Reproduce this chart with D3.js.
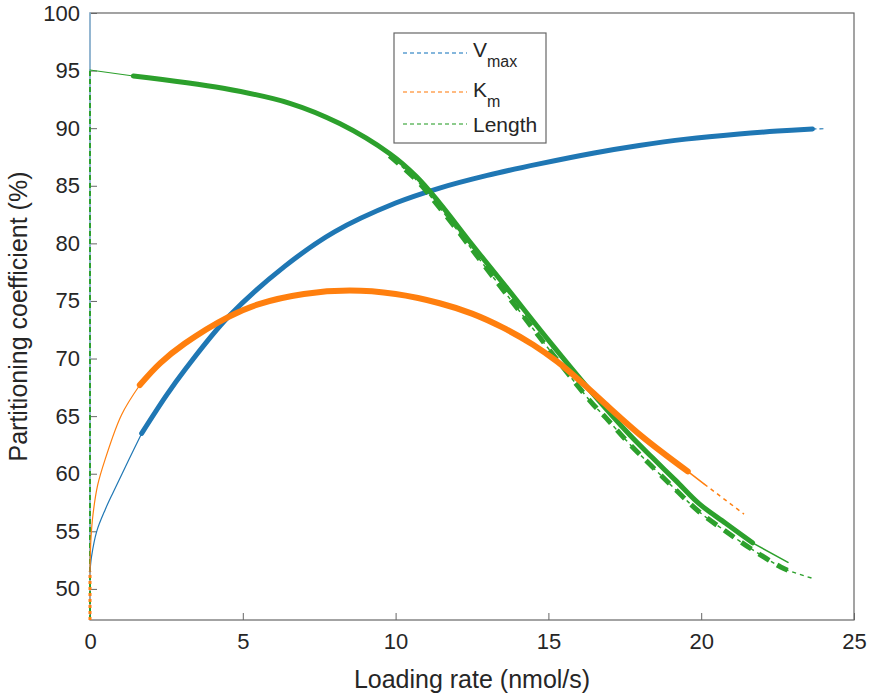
<!DOCTYPE html>
<html>
<head>
<meta charset="utf-8">
<script src="https://cdn.jsdelivr.net/npm/d3@7"></script>
<style>
  body { margin: 0; background: #fff; }
  text { font-family: Arial, "Liberation Sans", sans-serif; fill: #262626; }
</style>
</head>
<body>
<div id="chart"></div>
<script>
// values
let xTicks = [0, 5, 10, 15, 20, 25];
let yTicks = [50, 55, 60, 65, 70, 75, 80, 85, 90, 95, 100];

// Vmax
let vmaxX = [0, 0.05, 0.22, 0.5, 0.76, 1.25, 1.69, 2.5, 3.1, 4.52, 6.37, 8, 10, 11.44, 13, 14.7, 16.5, 17.97, 19.5, 21.24, 22.5, 23.64, 24.02];
let vmaxY = [51.5, 52.8, 55.0, 56.9, 58.4, 61.1, 63.5, 66.8, 69.0, 73.6, 78.0, 81.0, 83.5, 84.8, 85.9, 86.9, 87.85, 88.5, 89.05, 89.5, 89.75, 89.93, 89.95];
// Km
let kmX = [0, 0.03, 0.1, 0.25, 0.49, 1.03, 1.63, 2.3, 3.1, 4.52, 5.5, 7, 8.5, 10, 11.44, 12.5, 13.5, 14.5, 15.3, 16.1, 16.8, 18.08, 19.56, 20.1, 21.4];
let kmY = [51.5, 54.3, 56.5, 59.0, 61.2, 65.1, 67.7, 69.6, 71.3, 73.6, 74.7, 75.6, 75.9, 75.6, 74.8, 73.9, 72.7, 71.2, 69.7, 67.9, 66.2, 63.2, 60.2, 59.1, 56.5];
// Length (main and lower dashed run)
let lenX = [0, 1.42, 4.36, 6.54, 8.17, 9.8, 10.68, 11.44, 12.5, 13.62, 15, 16.34, 17.65, 18.4, 19.17, 19.93, 20.8, 21.68, 22.84];
let lenY = [95.05, 94.53, 93.46, 92.16, 90.4, 87.8, 85.8, 83.5, 79.9, 76.2, 71.6, 67.3, 63.4, 61.4, 59.4, 57.4, 55.7, 54.0, 52.3];
let lenLoX = [9.8, 10.68, 11.44, 13.62, 16.34, 16.9, 17.65, 18.4, 19.17, 19.93, 20.8, 21.68, 22.6, 22.85, 23.66];
let lenLoY = [87.6, 85.5, 83.1, 75.6, 66.4, 64.8, 62.6, 60.6, 58.6, 56.7, 55.0, 53.4, 51.9, 51.6, 50.9];

let colors = { vmax: "#1f77b4", km: "#ff7f0e", len: "#2ca02c" };

let margin = { top: 13, right: 18, bottom: 76, left: 90 },
  width = 872 - margin.left - margin.right,
  height = 696 - margin.top - margin.bottom;

let svg = d3.select("#chart").append("svg")
  .attr("width", 872)
  .attr("height", 696)
  .append("g")
  .attr("transform", "translate(" + margin.left + "," + margin.top + ")");

let x = d3.scaleLinear().domain([0, 25]).range([0, width]);
let y = d3.scaleLinear().domain([47.3, 100]).range([height, 0]);

// axes box
svg.append("rect")
  .attr("width", width).attr("height", height)
  .attr("fill", "none").attr("stroke", "#666").attr("stroke-width", 1.2);

let xAxis = svg.append("g")
  .attr("transform", "translate(0," + height + ")")
  .call(d3.axisBottom(x).tickValues(xTicks).tickSize(-7).tickPadding(13));
let yAxis = svg.append("g")
  .call(d3.axisLeft(y).tickValues(yTicks).tickSize(-7).tickPadding(10));
[xAxis, yAxis].forEach(a => {
  a.select(".domain").remove();
  a.selectAll("line").attr("stroke", "#666");
  a.selectAll("text").style("font-size", "22px").attr("fill", "#262626");
});

svg.append("text")
  .attr("x", width / 2).attr("y", height + 68)
  .style("text-anchor", "middle").style("font-size", "25px")
  .text("Loading rate (nmol/s)");
svg.append("text")
  .attr("transform", "rotate(-90)")
  .attr("x", -height / 2).attr("y", -63)
  .style("text-anchor", "middle").style("font-size", "25px")
  .text("Partitioning coefficient (%)");

function pts(xs, ys, from, to) {
  let out = [];
  for (let i = from; i <= to; i++) out.push([xs[i], ys[i]]);
  return out;
}

let line = d3.line().x(d => x(d[0])).y(d => y(d[1])).curve(d3.curveCatmullRom.alpha(0.5));

function draw(data, color, w, dash) {
  svg.append("path")
    .datum(data)
    .attr("d", line)
    .attr("fill", "none")
    .attr("stroke", color)
    .attr("stroke-width", w)
    .attr("stroke-linecap", dash ? "butt" : "round")
    .attr("stroke-dasharray", dash || null);
}

// vertical pieces at x = 0
draw([[0, 51.5], [0, 100]], "#8fbde0", 1.5);
draw([[0, 47.3], [0, 95.05]], colors.len, 2, "5,3");
draw([[0, 47.3], [0, 51.5]], colors.km, 3, "3,3");

// Vmax
draw(pts(vmaxX, vmaxY, 0, 6), colors.vmax, 1.2);
draw(pts(vmaxX, vmaxY, 6, 21), colors.vmax, 5);
draw(pts(vmaxX, vmaxY, 21, 22), colors.vmax, 1.2, "4,3");

// Length
draw(pts(lenLoX, lenLoY, 0, 14), colors.len, 1.5, "4,4");
draw(pts(lenLoX, lenLoY, 0, 13), colors.len, 5, "12,9");
draw(pts(lenX, lenY, 0, 1), colors.len, 1.2);
draw(pts(lenX, lenY, 1, 17), colors.len, 5);
draw(pts(lenX, lenY, 17, 18), colors.len, 1.5);

// Km
draw(pts(kmX, kmY, 0, 6), colors.km, 1.2);
draw(pts(kmX, kmY, 6, 22), colors.km, 6);
draw(pts(kmX, kmY, 22, 23), colors.km, 1.5);
draw(pts(kmX, kmY, 23, 24), colors.km, 1.5, "4,4");

// legend
let legend = svg.append("g").attr("transform", "translate(" + (394 - margin.left) + "," + (33 - margin.top) + ")");
legend.append("rect")
  .attr("width", 152).attr("height", 110)
  .attr("fill", "#fff").attr("stroke", "#666").attr("stroke-width", 1.2);
let items = [
  { c: "#84b6dc", label: "V", sub: "max", ly: 20, ty: 24 },
  { c: "#ffba80", label: "K", sub: "m", ly: 59, ty: 64 },
  { c: "#8ccb8c", label: "Length", sub: null, ly: 91, ty: 99 }
];
items.forEach(it => {
  legend.append("line")
    .attr("x1", 9).attr("x2", 73).attr("y1", it.ly).attr("y2", it.ly)
    .attr("stroke", it.c).attr("stroke-width", 2).attr("stroke-dasharray", "4,3");
  let t = legend.append("text").attr("x", 79).attr("y", it.ty).style("font-size", "21px").text(it.label);
  if (it.sub) {
    t.append("tspan").attr("dy", 10).style("font-size", "16px").text(it.sub);
  }
});
</script>
</body>
</html>
